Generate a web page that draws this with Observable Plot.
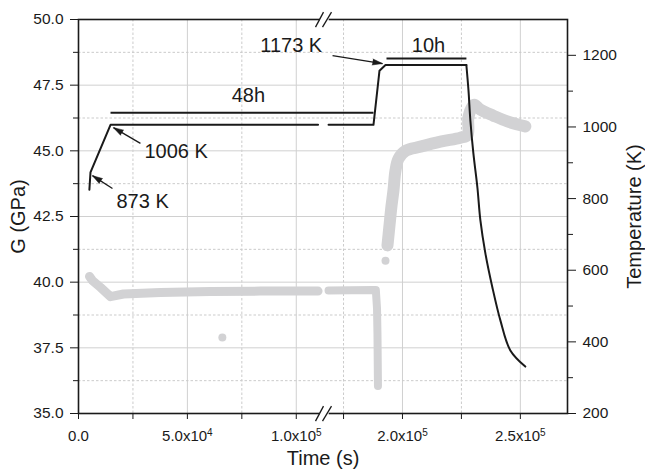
<!DOCTYPE html>
<html><head><meta charset="utf-8">
<script src="https://cdn.jsdelivr.net/npm/d3@7"></script>
<script src="https://cdn.jsdelivr.net/npm/@observablehq/plot@0.6"></script>
<style>
body{margin:0;background:#fff}
svg{font-family:"Liberation Sans",Arial,sans-serif}
</style>
</head><body><div id="chart"></div>
<script>
// ---- data (time in s, G in GPa, temperature in K) ----
const gTime1 = [5046, 6422, 10092, 14679, 20642, 37615, 60550, 83486, 110000];
const gVal1  = [40.22, 40.06, 39.80, 39.45, 39.55, 39.61, 39.64, 39.66, 39.66];
const gTime2 = [168640, 187710, 188700, 189200, 189400, 189500, 189600];
const gVal2  = [39.68, 39.70, 39.70, 39.0, 38.0, 37.0, 36.05];
const gTime3 = [193644, 194492, 195339, 196186, 197034, 198305, 201271, 207627, 216102, 224576, 227542, 227966, 229661, 230508, 233051, 238559, 244492, 252119];
const gVal3  = [41.4, 42.16, 42.9, 43.5, 44.25, 44.7, 45.0, 45.16, 45.35, 45.5, 45.6, 46.27, 46.69, 46.75, 46.57, 46.34, 46.12, 45.93];
const gOutTime = [66055, 192800];
const gOutVal  = [37.89, 40.82];

const tTime1 = [5000, 5500, 14700, 110000];
const tK1    = [825, 873, 1006, 1006];
const tTime2 = [168640, 187700, 190250, 192800, 227100];
const tK2    = [1006, 1006, 1157, 1173, 1173];
const tTime3 = [227100, 228000, 228800, 230080, 231780, 233050, 235170, 238140, 241530, 245760, 252100];
const tK3    = [1173, 1102, 1018, 926, 831, 739, 647, 552, 460, 376, 331];

// annotations
const barLabels = ["48h", "10h"];
const barStart = [14700, 193220];
const barEnd   = [187700, 227120];
const barK     = [1040, 1191];
const barTextT = [77980, 211017];
const barTextK = [1088, 1227];

const noteLabels = ["873 K", "1006 K", "1173 K"];
const noteTextT  = [17431, 30275, 111900];
const noteTextK  = [792, 931, 1227];
const noteAnchor = ["start", "start", "end"];
const arrowT1 = [15596, 28440, 170339];
const arrowK1 = [828, 954, 1199];
const arrowT2 = [6422, 16055, 191525];
const arrowK2 = [864, 998, 1177];

// axes
const xMajor = [0, 50000, 100000, 200000, 250000];
const xMajorLabels = ["0.0", "5.0x10^4", "1.0x10^5", "2.0x10^5", "2.5x10^5"];
const xMinor = [25000, 75000, 175000, 225000];
const gMajor = [35, 37.5, 40, 42.5, 45, 47.5, 50];
const gMinor = [36.25, 38.75, 41.25, 43.75, 46.25, 48.75];
const kMajor = [200, 400, 600, 800, 1000, 1200];
const kMinor = [300, 500, 700, 900, 1100];
const kDomain = [200, 1300];
const gDomain = [35, 50];
// broken time axis: [0, 112500] and [166500, 270000]
const xDomain = [0, 112500, 166500, 270000];

const W = 645, H = 476, mL = 78, mR = 78, mT = 19, mB = 63;
const xRange = [mL, 323, 323, W - mR];
const xOpts = {type: "linear", domain: xDomain, range: xRange};
const yOpts = {domain: gDomain};
const xs = Plot.scale({x: xOpts});
const ys = Plot.scale({y: {...yOpts, range: [H - mB, mT]}});

const toG = k => gDomain[0] + (k - kDomain[0]) * (gDomain[1] - gDomain[0]) / (kDomain[1] - kDomain[0]);
const fromG = g => kDomain[0] + (g - gDomain[0]) * (kDomain[1] - kDomain[0]) / (gDomain[1] - gDomain[0]);
const zip = (ts, vs) => ts.map((t, i) => ({t, v: vs[i]}));

const gray = "#d2d2d4";
const ink = "#1a1a1a";

const seg1 = zip(gTime1, gVal1), seg2 = zip(gTime2, gVal2), seg3 = zip(gTime3, gVal3);
const outl = zip(gOutTime, gOutVal);
const temp1 = zip(tTime1, tK1.map(toG)), temp2 = zip(tTime2, tK2.map(toG)), temp3 = zip(tTime3, tK3.map(toG));
const bars = barLabels.map((l, i) => ({l, t1: barStart[i], t2: barEnd[i], y: toG(barK[i]), tt: barTextT[i], ty: toG(barTextK[i])}));
const notes = noteLabels.map((l, i) => {
  const d = {l, t: noteTextT[i], y: toG(noteTextK[i]), a: noteAnchor[i],
    t1: arrowT1[i], y1: toG(arrowK1[i]), t2: arrowT2[i], y2: toG(arrowK2[i])};
  const px = xs.apply(d.t2) - xs.apply(d.t1), py = ys.apply(d.y2) - ys.apply(d.y1);
  d.angle = Math.atan2(px, -py) * 180 / Math.PI;
  return d;
});
const slashes = [
  {t1: 108826, t2: 112500}, {t1: 112041, t2: 169893}
];
const breakY = [gDomain[0], gDomain[1]];
const slashData = breakY.flatMap(y => slashes.map(s => ({...s, y})));
const xLabel = new Map(xMajor.map((t, i) => [t, xMajorLabels[i]]));
const titleOpts = {fontSize: 20, fill: ink, textAnchor: "middle", lineAnchor: "middle"};

const chart = Plot.plot({
  width: W, height: H,
  marginLeft: mL, marginRight: mR, marginTop: mT, marginBottom: mB,
  x: xOpts,
  y: yOpts,
  style: {fontFamily: "Liberation Sans, Arial, sans-serif", fontSize: "15px", color: ink, background: "white"},
  marks: [
    Plot.ruleX(xMajor.slice(1), {stroke: "#d0d0d0", strokeWidth: 1}),
    Plot.ruleX(xMinor, {stroke: "#cbcbcb", strokeWidth: 1, strokeDasharray: "2.5,2"}),
    Plot.ruleY(gMajor.slice(1, -1), {stroke: "#d0d0d0", strokeWidth: 1}),
    Plot.ruleY(gMinor, {stroke: "#cbcbcb", strokeWidth: 1, strokeDasharray: "2.5,2"}),

    // G data
    Plot.line(seg1, {x: "t", y: "v", stroke: gray, strokeWidth: 9, strokeLinecap: "round", strokeLinejoin: "round"}),
    Plot.line(seg2, {x: "t", y: "v", stroke: gray, strokeWidth: 8, strokeLinecap: "round", strokeLinejoin: "round"}),
    Plot.line(seg3, {x: "t", y: "v", stroke: gray, strokeWidth: 12, strokeLinecap: "round", strokeLinejoin: "round", curve: "catmull-rom"}),
    Plot.dot(outl, {x: "t", y: "v", r: 4, fill: gray}),

    // temperature
    Plot.line(temp1, {x: "t", y: "v", stroke: ink, strokeWidth: 2}),
    Plot.line(temp2, {x: "t", y: "v", stroke: ink, strokeWidth: 2}),
    Plot.line(temp3, {x: "t", y: "v", stroke: ink, strokeWidth: 2, curve: "catmull-rom"}),

    // duration bars + labels
    Plot.link(bars, {x1: "t1", x2: "t2", y1: "y", y2: "y", stroke: ink, strokeWidth: 2}),
    Plot.text(bars, {x: "tt", y: "ty", text: "l", fontSize: 20, fill: ink}),
    // temperature notes: arrow shaft + filled head
    Plot.link(notes, {x1: "t1", y1: "y1", x2: "t2", y2: "y2", stroke: ink, strokeWidth: 1.3}),
    Plot.vector(notes, {x: "t2", y: "y2", rotate: "angle", length: 10, anchor: "end", shape: "spike", r: 3, fill: ink, stroke: ink, strokeWidth: 0.5}),
    Plot.text(notes.filter(d => d.a === "start"), {x: "t", y: "y", text: "l", textAnchor: "start", fontSize: 20, fill: ink}),
    Plot.text(notes.filter(d => d.a === "end"), {x: "t", y: "y", text: "l", textAnchor: "end", fontSize: 20, fill: ink}),

    // frame and axes
    Plot.frame({stroke: ink, strokeWidth: 1.6}),
    Plot.axisY({ticks: gMajor, tickFormat: d3.format(".1f"), tickSize: 8, tickPadding: 7, label: null}),
    Plot.axisY({ticks: gMinor, tickFormat: () => "", tickSize: 5, label: null}),
    Plot.axisY({anchor: "right", ticks: kMajor.map(toG), tickFormat: g => String(Math.round(fromG(g))), tickSize: 8, tickPadding: 7, label: null}),
    Plot.axisY({anchor: "right", ticks: kMinor.map(toG), tickFormat: () => "", tickSize: 5, label: null}),
    Plot.axisX({ticks: xMajor, tickFormat: t => xLabel.get(t), tickSize: 6, tickPadding: 11, label: null}),
    Plot.axisX({ticks: xMinor, tickFormat: () => "", tickSize: 6, label: null}),

    // axis break marks
    Plot.link(breakY.map(y => ({y})), {x1: () => 110800, x2: () => 168700, y1: "y", y2: "y", stroke: "white", strokeWidth: 4}),
    Plot.link(slashData, {x1: "t1", x2: "t2", y1: d => d.y - 0.29, y2: d => d.y + 0.28, stroke: ink, strokeWidth: 1.3}),

    // axis titles
    Plot.text(["G (GPa)"], {...titleOpts, frameAnchor: "left", dx: -60, rotate: -90}),
    Plot.text(["Temperature (K)"], {...titleOpts, frameAnchor: "right", dx: 67, rotate: -90}),
    Plot.text(["Time (s)"], {...titleOpts, frameAnchor: "bottom", dy: 45})
  ]
});

// tick labels: size and superscript exponents
const tickRe = /^[0-9.]+(x10\^[0-9])?$/;
d3.select(chart).selectAll("text").each(function() {
  const s = this.textContent;
  if (this.childElementCount === 0 && tickRe.test(s)) {
    const t = d3.select(this);
    const size = s.includes("x") || s === "0.0" ? 15 : 15.5;
    t.attr("font-size", size).style("font-size", size + "px");
    if (s.includes("^")) {
      const [b, e] = s.split("^");
      t.text(b);
      t.append("tspan").attr("dy", "-0.55em").style("font-size", "10px").text(e);
    }
  }
});
document.getElementById("chart").append(chart);
</script>
</body></html>
